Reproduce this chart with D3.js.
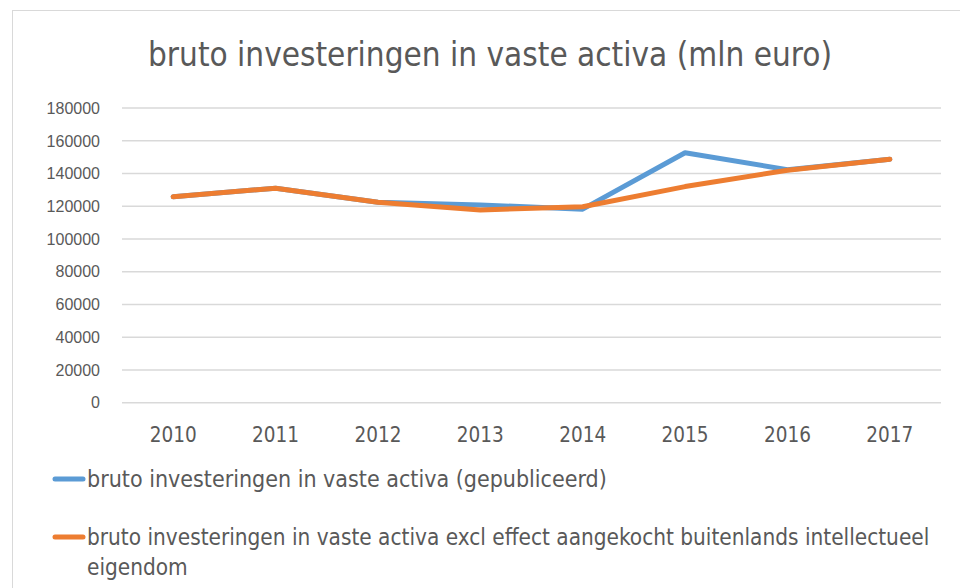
<!DOCTYPE html>
<meta charset="utf-8">
<html>
  <head>
    <script src="https://d3js.org/d3.v7.min.js"></script>
    <style>
      body { margin: 0; background: #fff; }
      text { fill: #595959; }
      .cond { font-family: "Liberation Sans Narrow", "DejaVu Sans Condensed", "Open Sans", sans-serif; font-stretch: condensed; }
      .ytick { font-family: "Liberation Sans", Arial, sans-serif; font-size: 16px; }
    </style>
  </head>
  <body>
  <script>

const years = ['2010', '2011', '2012', '2013', '2014', '2015', '2016', '2017'];
const published = [125800, 131000, 122400, 120800, 118200, 152700, 142300, 148700];
const excl_ip = [125800, 131000, 122400, 117700, 119700, 132000, 142000, 148700];
const y_ticks = [0, 20000, 40000, 60000, 80000, 100000, 120000, 140000, 160000, 180000];
const title = 'bruto investeringen in vaste activa (mln euro)';
const series_names = [
  'bruto investeringen in vaste activa (gepubliceerd)',
  'bruto investeringen in vaste activa excl effect aangekocht buitenlands intellectueel',
  'eigendom'
];
const colours = ['#5b9bd5', '#ed7d31'];

const width = 960, height = 588;

const svg = d3.select('body').append('svg')
  .attr('width', width)
  .attr('height', height);

// chart border (only top + left visible in the crop)
svg.append('rect')
  .attr('x', 12.5).attr('y', 10.5)
  .attr('width', 1000).attr('height', 1000)
  .attr('fill', 'none')
  .attr('stroke', '#d9d9d9');

const x = d3.scaleBand().domain(years).range([122, 941]);
const y = d3.scaleLinear().domain([0, 180000]).range([402.7, 108]);

// fit a text element to a target width by scaling the font size
const fit = (sel, target) => {
  const w = sel.node().getComputedTextLength();
  const fs = parseFloat(sel.attr('font-size'));
  sel.attr('font-size', fs * target / w);
};

svg.append('text')
  .attr('class', 'cond')
  .attr('x', 490).attr('y', 66)
  .attr('text-anchor', 'middle')
  .attr('font-size', 30)
  .text(title)
  .call(fit, 684);

// gridlines
svg.append('g')
  .selectAll('line')
  .data(y_ticks)
  .join('line')
    .attr('x1', 122).attr('x2', 941)
    .attr('y1', d => y(d)).attr('y2', d => y(d))
    .attr('stroke', '#d9d9d9')
    .attr('stroke-width', 1.5);

svg.append('g')
  .selectAll('text')
  .data(y_ticks)
  .join('text')
    .attr('class', 'ytick')
    .attr('x', 100)
    .attr('y', d => y(d))
    .attr('dy', '0.36em')
    .attr('text-anchor', 'end')
    .text(d => d);

svg.append('g')
  .selectAll('text')
  .data(years)
  .join('text')
    .attr('class', 'cond')
    .attr('x', d => x(d) + x.bandwidth() / 2)
    .attr('y', 442)
    .attr('text-anchor', 'middle')
    .attr('font-size', 20)
    .text(d => d)
    .each(function() { fit(d3.select(this), 47); });

const line = d3.line()
  .x((d, i) => x(years[i]) + x.bandwidth() / 2)
  .y(d => y(d));

[published, excl_ip].forEach((s, i) => {
  svg.append('path')
    .datum(s)
    .attr('d', line)
    .attr('fill', 'none')
    .attr('stroke', colours[i])
    .attr('stroke-width', 5)
    .attr('stroke-linejoin', 'round')
    .attr('stroke-linecap', 'round');
});

// legend
const legend_y = [479, 537];
legend_y.forEach((ly, i) => {
  svg.append('line')
    .attr('x1', 55).attr('x2', 83)
    .attr('y1', ly).attr('y2', ly)
    .attr('stroke', colours[i])
    .attr('stroke-width', 5)
    .attr('stroke-linecap', 'round');
});

const lg1 = svg.append('text')
  .attr('class', 'cond')
  .attr('x', 87).attr('y', 479).attr('dy', '0.36em')
  .attr('font-size', 20)
  .text(series_names[0])
  .call(fit, 520);

const lg2 = svg.append('text')
  .attr('class', 'cond')
  .attr('x', 87).attr('y', 537).attr('dy', '0.36em')
  .attr('font-size', 20)
  .text(series_names[1])
  .call(fit, 843);

svg.append('text')
  .attr('class', 'cond')
  .attr('x', 87).attr('y', 567).attr('dy', '0.36em')
  .attr('font-size', lg2.attr('font-size'))
  .text(series_names[2]);

  </script>
  </body>
</html>
